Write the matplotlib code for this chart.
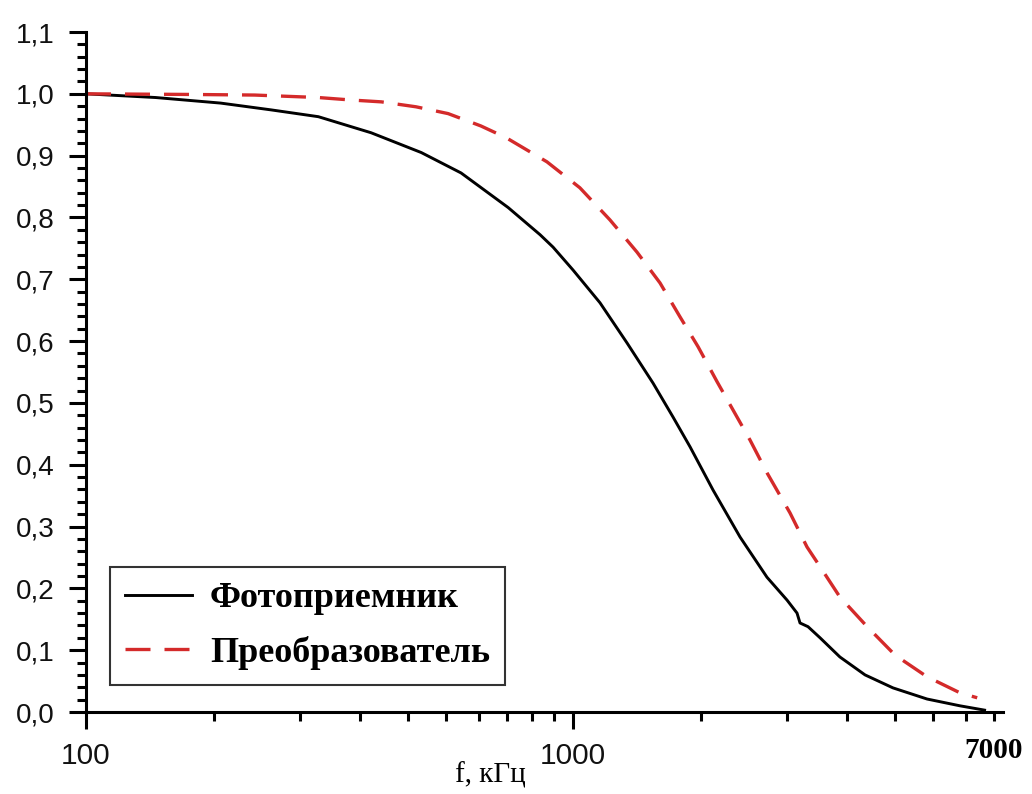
import numpy as np
import matplotlib.pyplot as plt

# ------------------------------------------------------------
# data
# ------------------------------------------------------------
f_photo = [100, 139, 189, 240, 300, 385, 488, 589, 736, 856, 910, 1000,
           1136, 1291, 1460, 1605, 1739, 1939, 2203, 2502, 2751, 2884,
           2925, 3038, 3216, 3532, 3978, 4540, 5333, 6232, 7000]
k_photo = [1.0, 0.994, 0.985, 0.974, 0.963, 0.937, 0.905, 0.872, 0.816,
           0.772, 0.752, 0.715, 0.662, 0.597, 0.532, 0.477, 0.429, 0.359,
           0.283, 0.218, 0.181, 0.160, 0.144, 0.138, 0.120, 0.089, 0.060,
           0.039, 0.021, 0.010, 0.003]

f_conv = [100, 162, 222, 300, 350, 404, 476, 554, 647, 729, 884, 1033,
          1191, 1353, 1509, 1659, 1806, 1977, 2309, 2502, 2790, 3023,
          3216, 3532, 4018, 4585, 5333, 6232, 6760]
k_conv = [1.0, 0.999, 0.998, 0.994, 0.990, 0.987, 0.979, 0.968, 0.948,
          0.929, 0.890, 0.848, 0.796, 0.744, 0.694, 0.639, 0.591, 0.534,
          0.440, 0.387, 0.322, 0.267, 0.235, 0.186, 0.138, 0.092, 0.057,
          0.031, 0.023]

labels = ["Фотоприемник", "Преобразователь"]

x_major = [100, 1000]
x_major_labels = ["100", "1000"]
x_minor = [91.5 * k for k in range(2, 11)] + [915 * k for k in range(2, 9)]
x_end_label = "7000"
x_end_pos = 7320

y_major = np.round(np.arange(0, 1.11, 0.1), 2)
y_minor = np.round(np.arange(0, 1.101, 0.02), 2)

# ------------------------------------------------------------
# figure
# ------------------------------------------------------------
fig = plt.figure(figsize=(10.32, 7.94), dpi=100)
ax = fig.add_axes([86 / 1032, 1 - 712 / 794, 917 / 1032, 680 / 794])

ax.plot(f_photo, k_photo, color="black", lw=2.1, label=labels[0])
ax.plot(f_conv, k_conv, color="#d42a2a", lw=2.4, dashes=(7.5, 4.2),
        label=labels[1])

ax.set_xscale("log")
ax.set_xlim(100, 7637)
ax.set_ylim(0, 1.1)

ax.xaxis.set_major_locator(plt.FixedLocator(x_major))
ax.xaxis.set_major_formatter(plt.FixedFormatter(x_major_labels))
ax.xaxis.set_minor_locator(plt.FixedLocator(x_minor))
ax.xaxis.set_minor_formatter(plt.NullFormatter())

ax.yaxis.set_major_locator(plt.FixedLocator(y_major))
ax.set_yticklabels([f"{v:.1f}".replace(".", ",") for v in y_major])
ax.yaxis.set_minor_locator(plt.FixedLocator(y_minor))

for s in ["top", "right"]:
    ax.spines[s].set_visible(False)
for s in ["left", "bottom"]:
    ax.spines[s].set_linewidth(2.2)

ax.tick_params(which="major", direction="out", length=12.5, width=2.2)
ax.tick_params(which="minor", direction="out", length=6.5, width=2.2)
ax.tick_params(axis="y", which="major", labelsize=20, pad=10)
ax.tick_params(axis="x", which="major", labelsize=21.5, pad=9)
for t in ax.get_xticklabels() + ax.get_yticklabels():
    t.set_fontfamily("Liberation Sans")
    t.set_color("#111111")

ax.text(x_end_pos, -0.037, x_end_label, transform=ax.get_xaxis_transform(),
        ha="center", va="top", fontsize=21, fontweight="bold",
        family="Liberation Serif")

fig.text(490 / 1032, 1 - 783 / 794, "f, кГц", ha="center", va="baseline",
         fontsize=21, family="Liberation Serif")

leg = ax.legend(loc="lower left", bbox_to_anchor=(0.026, 0.040),
                borderaxespad=0, prop={"family": "Liberation Serif",
                                       "weight": "bold", "size": 26},
                frameon=True, fancybox=False, handlelength=1.85,
                handletextpad=0.5, borderpad=0.42, labelspacing=0.56)
leg.get_frame().set_edgecolor("black")
leg.get_frame().set_linewidth(1.5)

fig.savefig("out.png", dpi=100)
